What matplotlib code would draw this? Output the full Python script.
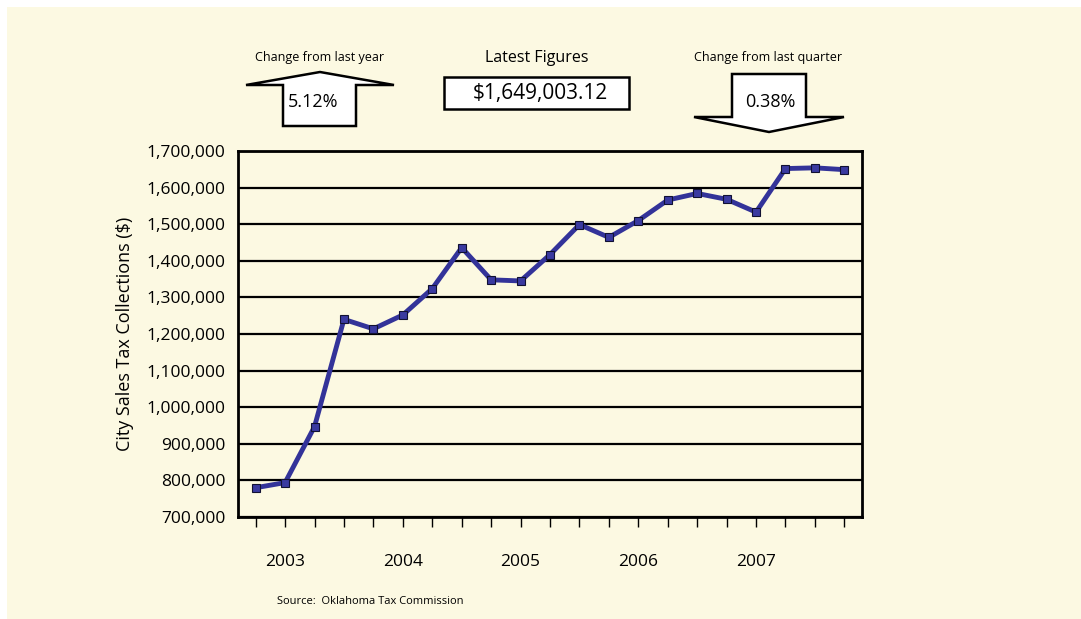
import numpy as np
import matplotlib.pyplot as plt
from matplotlib.patches import Polygon, Rectangle

plt.rcParams['font.family'] = ['Open Sans', 'DejaVu Sans']

# quarterly city sales tax collections, 2003 - 2007
quarters = np.arange(21)
collections = [780000, 794000, 947000, 1240000, 1214000, 1252000, 1324000,
               1436000, 1348000, 1345000, 1417000, 1499000, 1464000, 1510000,
               1566000, 1584000, 1568000, 1533000, 1652000, 1654000, 1649003]
year_labels = ['2003', '2004', '2005', '2006', '2007']
year_pos = [1, 5, 9, 13, 17]
yticks = np.arange(700000, 1700001, 100000)

latest = '$1,649,003.12'
yr_change = '5.12%'
qtr_change = '0.38%'

W, H = 1081, 619
bg = '#fcf9e2'
fig = plt.figure(figsize=(W/100, H/100), dpi=100)
fig.patch.set_facecolor('white')
fig.patches.append(Rectangle((7/W, 0), 1, 1 - 7/H, transform=fig.transFigure,
                             facecolor=bg, edgecolor='none', zorder=-10))

ax = fig.add_axes([238/W, (H-517)/H, (862-238)/W, (517-151)/H])
ax.set_facecolor(bg)
ax.plot(quarters, collections, color='#333399', lw=3.5, marker='s', ms=6,
        mfc='#3a3aa0', mec='#111133', mew=0.8, zorder=3)
ax.set_xlim(-0.6, 20.6)
ax.set_ylim(700000, 1700000)
ax.set_yticks(yticks)
ax.set_yticklabels([f'{v:,}' for v in yticks], fontsize=12.5)
ax.tick_params(axis='y', length=0, pad=9)
ax.yaxis.grid(True, color='black', lw=1.6)
ax.set_axisbelow(True)

xlabels = ['' for _ in quarters]
for p, lab in zip(year_pos, year_labels):
    xlabels[p] = lab
ax.set_xticks(quarters)
ax.set_xticklabels(xlabels, fontsize=12.5)
ax.tick_params(axis='x', length=7, width=1, direction='out', pad=20)
for s in ax.spines.values():
    s.set_linewidth(2)
ax.set_ylabel('City Sales Tax Collections ($)', fontsize=13, labelpad=9)


# pixel helper for the header graphics
def px(x, y):
    return (x/W, 1 - y/H)


# up arrow (change from last year)
up = [px(283, 126), px(283, 85), px(246, 85), px(320, 72), px(394, 85),
      px(356, 85), px(356, 126)]
fig.patches.append(Polygon(up, closed=True, transform=fig.transFigure,
                           facecolor='white', edgecolor='black', lw=1.8))
fig.text(*px(313, 102), yr_change, ha='center', va='center', fontsize=13)
fig.text(*px(320, 57), 'Change from last year', ha='center', va='center',
         fontsize=9)

# latest figures box
fig.patches.append(Rectangle(px(444, 109), 185/W, 32/H,
                             transform=fig.transFigure, facecolor='white',
                             edgecolor='black', lw=1.8))
fig.text(*px(540, 94), latest, ha='center', va='center', fontsize=15)
fig.text(*px(537, 58), 'Latest Figures', ha='center', va='center',
         fontsize=11.5, fontweight='medium')

# down arrow (change from last quarter)
down = [px(732, 74), px(732, 117), px(694, 117), px(769, 132), px(844, 117),
        px(806, 117), px(806, 74)]
fig.patches.append(Polygon(down, closed=True, transform=fig.transFigure,
                           facecolor='white', edgecolor='black', lw=1.8))
fig.text(*px(770, 102), qtr_change, ha='center', va='center', fontsize=13)
fig.text(*px(768, 57), 'Change from last quarter', ha='center', va='center',
         fontsize=9)

fig.text(*px(370, 602), 'Source:  Oklahoma Tax Commission', ha='center',
         va='center', fontsize=8)

fig.savefig('out.png', dpi=100, facecolor=fig.get_facecolor())
